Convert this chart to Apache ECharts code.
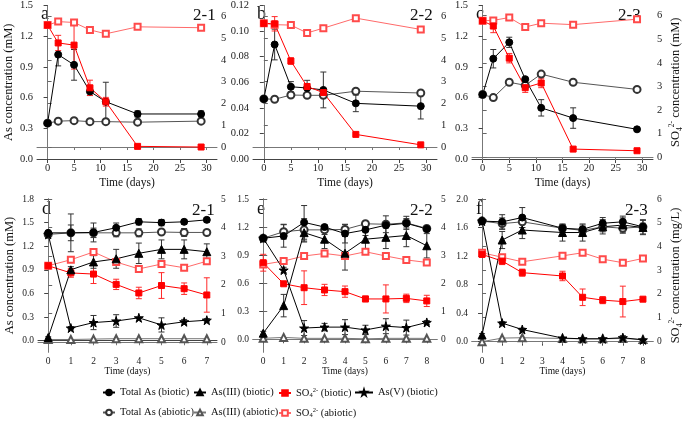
<!DOCTYPE html>
<html>
<head>
<meta charset="utf-8">
<script src="https://cdn.jsdelivr.net/npm/echarts@6/dist/echarts.min.js"></script>
<style>
  html, body { margin: 0; padding: 0; background: #fff; }
  #chart { width: 685px; height: 422px; }
</style>
</head>
<body>
<div id="chart"></div>
<script>
// ---- data ----
// top row (a, b, c): sampling days
const topDays = [0, 2, 5, 8, 11, 17, 29];
const topDayTicks = [0, 5, 10, 15, 20, 25, 30];
const topRightTicks = [0, 1, 2, 3, 4, 5, 6];

// panel a (2-1)
const aTicks = [0, 0.3, 0.6, 0.9, 1.2, 1.5];
const aTotalBio = [0.35, 1.02, 0.92, 0.66, 0.56, 0.44, 0.44];
const aTotalBioErr = [0, 0.11, 0.15, 0.04, 0.19, 0.03, 0.03];
const aTotalAbio = [0.35, 0.37, 0.375, 0.365, 0.365, 0.36, 0.37];
const aSo4Bio = [5.6, 4.78, 4.68, 2.72, 2.08, 0.03, 0.0];
const aSo4BioErr = [0, 0.35, 1.1, 0.35, 0.2, 0, 0];
const aSo4Abio = [5.6, 5.76, 5.72, 5.38, 5.2, 5.52, 5.48];

// panel b (2-2)
const bTicks = [0, 0.02, 0.04, 0.06, 0.08, 0.10, 0.12];
const bTotalBio = [0.047, 0.0895, 0.0565, 0.0555, 0.054, 0.0435, 0.0413];
const bTotalBioErr = [0, 0.012, 0.004, 0.006, 0.014, 0.0065, 0.01];
const bTotalAbio = [0.047, 0.0467, 0.05, 0.0498, 0.0498, 0.053, 0.0516];
const bSo4Bio = [5.68, 5.66, 3.95, 2.78, 2.5, 0.58, 0.1];
const bSo4BioErr = [0, 0.33, 0.15, 0.12, 0.12, 0, 0];
const bSo4Abio = [5.68, 5.62, 5.6, 5.24, 5.46, 5.92, 5.4];

// panel c (2-3)
const cTicks = [0, 0.3, 0.6, 0.9, 1.2, 1.5];
const cTotalBio = [0.63, 0.98, 1.14, 0.78, 0.5, 0.4, 0.29];
const cTotalBioErr = [0, 0.09, 0.05, 0, 0.08, 0.1, 0.02];
const cTotalAbio = [0.63, 0.6, 0.75, 0.72, 0.83, 0.75, 0.68];
const cSo4Bio = [5.78, 5.56, 4.2, 2.95, 3.15, 0.35, 0.28];
const cSo4BioErr = [0, 0.28, 0.2, 0.2, 0.2, 0, 0];
const cSo4Abio = [5.78, 5.8, 5.92, 5.52, 5.68, 5.62, 5.85];

// panel d (2-1)
const dDays = [0, 1, 2, 3, 4, 5, 6, 7];
const dTicks = [0, 0.3, 0.6, 0.9, 1.2, 1.5, 1.8];
const dRightTicks = [0, 1, 2, 3, 4, 5];
const dTotalBio = [1.37, 1.37, 1.375, 1.435, 1.51, 1.5, 1.51, 1.535];
const dTotalBioErr = [0.02, 0.1, 0.12, 0.06, 0.04, 0.04, 0.03, 0.03];
const dTotalAbio = [1.35, 1.37, 1.37, 1.37, 1.37, 1.38, 1.375, 1.375];
const dTotalAbioErr = [0, 0.24, 0.06, 0.05, 0.05, 0.03, 0.05, 0.03];
const dAs3Bio = [0.04, 0.9, 1.0, 1.04, 1.11, 1.16, 1.16, 1.13];
const dAs3BioErr = [0.01, 0.04, 0.08, 0.12, 0.13, 0.12, 0.12, 0.1];
const dAs3Abio = [0.015, 0.015, 0.02, 0.025, 0.025, 0.025, 0.025, 0.025];
const dAs5Bio = [1.35, 0.16, 0.23, 0.25, 0.29, 0.2, 0.24, 0.26];
const dAs5BioErr = [0, 0.02, 0.09, 0.08, 0, 0.09, 0.03, 0.02];
const dSo4Bio = [2.67, 2.42, 2.38, 2.02, 1.72, 1.98, 1.87, 1.65];
const dSo4BioErr = [0.05, 0.15, 0.33, 0.18, 0.2, 0.45, 0.2, 0.6];
const dSo4Abio = [2.67, 2.88, 3.15, 2.8, 2.56, 2.73, 2.6, 2.83];

// panel e (2-2)
const eDays = [0, 1, 2, 3, 4, 5, 6, 7, 8];
const eTicks = [0, 0.3, 0.6, 0.9, 1.2, 1.5];
const eRightTicks = [0, 1, 2, 3, 4, 5];
const eTotalBio = [1.08, 1.105, 1.25, 1.2, 1.13, 1.17, 1.22, 1.24, 1.18];
const eTotalBioErr = [0.03, 0.12, 0.18, 0.02, 0.1, 0.06, 0.03, 0.05, 0.03];
const eTotalAbio = [1.08, 1.15, 1.17, 1.17, 1.175, 1.235, 1.23, 1.245, 1.185];
const eTotalAbioErr = [0.03, 0.08, 0.12, 0.05, 0.05, 0.02, 0.09, 0.07, 0.02];
const eAs3Bio = [0.065, 0.36, 1.14, 1.07, 0.92, 1.07, 1.09, 1.11, 1.0];
const eAs3BioErr = [0.02, 0.12, 0.1, 0.1, 0.18, 0.12, 0.12, 0.12, 0.13];
const eAs3Abio = [0.01, 0.02, 0.01, 0.01, 0.01, 0.005, 0.01, 0.01, 0.01];
const eAs5Bio = [1.08, 0.74, 0.12, 0.13, 0.13, 0.1, 0.14, 0.125, 0.18];
const eAs5BioErr = [0, 0.03, 0.08, 0.04, 0.08, 0.05, 0.08, 0.08, 0.02];
const eSo4Bio = [2.73, 1.98, 1.84, 1.76, 1.7, 1.44, 1.44, 1.46, 1.37];
const eSo4BioErr = [0.3, 0.05, 0.6, 0.2, 0.2, 0.1, 0.5, 0.15, 0.2];
const eSo4Abio = [2.67, 2.79, 2.97, 3.06, 2.97, 3.12, 2.97, 2.83, 2.74];

// panel f (2-3)
const fDays = [0, 1, 2, 4, 5, 6, 7, 8];
const fAxisDays = [0, 1, 2, 3, 4, 5, 6, 7, 8];
const fTicks = [0, 0.4, 0.8, 1.2, 1.6, 2.0];
const fRightTicks = [0, 1, 2, 3, 4, 5, 6];
const fTotalBio = [1.69, 1.68, 1.74, 1.59, 1.575, 1.66, 1.68, 1.61];
const fTotalBioErr = [0.02, 0.1, 0.14, 0.05, 0.06, 0.08, 0.08, 0.1];
const fTotalAbio = [1.69, 1.655, 1.68, 1.59, 1.56, 1.61, 1.59, 1.61];
const fTotalAbioErr = [0, 0.08, 0.08, 0.05, 0.05, 0.07, 0.07, 0.05];
const fAs3Bio = [0.093, 1.425, 1.565, 1.53, 1.53, 1.61, 1.635, 1.6];
const fAs3BioErr = [0.02, 0.12, 0.12, 0.12, 0.12, 0.1, 0.1, 0.1];
const fAs3Abio = [0.0, 0.05, 0.055, 0.045, 0.04, 0.04, 0.045, 0.03];
const fAs5Bio = [1.69, 0.26, 0.17, 0.05, 0.04, 0.04, 0.055, 0.025];
const fAs5BioErr = [0, 0.02, 0.02, 0.01, 0.01, 0.01, 0.03, 0.01];
const fSo4Bio = [3.66, 3.38, 2.89, 2.75, 1.85, 1.73, 1.67, 1.77];
const fSo4BioErr = [0.1, 0.15, 0.15, 0.2, 0.35, 0.15, 0.65, 0.03];
const fSo4Abio = [3.73, 3.54, 3.35, 3.6, 3.73, 3.46, 3.31, 3.49];

// ---- styling ----
const FONT = '"Liberation Serif", "Times New Roman", serif';
const STAR = 'path://M50,0 L61,35 L98,35 L68,57 L79,91 L50,70 L21,91 L32,57 L2,35 L39,35 Z';
const styles = {
  'Total As (biotic)':   { symbol: 'circle', size: 7, color: '#000', line: '#000' },
  'Total As (abiotic)':  { symbol: 'emptyCircle', size: 7, color: '#333', line: '#555' },
  'As(III) (biotic)':    { symbol: 'triangle', size: 8, color: '#000', line: '#000' },
  'As(III) (abiotic)':   { symbol: 'emptyTriangle', size: 7, color: '#555', line: '#777' },
  'As(V) (biotic)':      { symbol: STAR, size: 9, color: '#000', line: '#000' },
  'SO4 (biotic)':        { symbol: 'rect', size: 6, color: '#ff0000', line: '#ff0000' },
  'SO4 (abiotic)':       { symbol: 'emptyRect', size: 6, color: '#ff4a4a', line: '#ff6a6a' }
};
const errColor = { As: '#333', SO4b: '#ff2a2a', SO4a: '#ff8a8a' };

const fmt = d => v => v.toFixed(d);
const txt = (size) => ({ fontFamily: FONT, fontSize: size, fontWeight: 'normal', color: '#111' });

const panels = [
  { grid: { left: 37, top: 4, width: 180, height: 155 }, xMin: -2, xMax: 32, xTicks: topDayTicks, big: true,
    yl: { min: 0, max: 1.5, ticks: aTicks, dec: 1 }, yr: { min: -0.55, max: 6.5, ticks: topRightTicks },
    leftName: true, rightName: null, label: 'a', tag: '2-1', tagOff: 24, days: topDays,
    lines: [
      ['Total As (abiotic)', 'l', aTotalAbio, null, 'As'],
      ['Total As (biotic)', 'l', aTotalBio, aTotalBioErr, 'As'],
      ['SO4 (abiotic)', 'r', aSo4Abio, null, 'SO4a'],
      ['SO4 (biotic)', 'r', aSo4Bio, aSo4BioErr, 'SO4b']
    ] },
  { grid: { left: 253, top: 4, width: 184, height: 155 }, xMin: -2, xMax: 32, xTicks: topDayTicks, big: true,
    yl: { min: 0, max: 0.12, ticks: bTicks, dec: 2 }, yr: { min: -0.55, max: 6.5, ticks: topRightTicks },
    leftName: false, rightName: null, label: 'b', tag: '2-2', tagOff: 27, days: topDays,
    lines: [
      ['Total As (abiotic)', 'l', bTotalAbio, null, 'As'],
      ['Total As (biotic)', 'l', bTotalBio, bTotalBioErr, 'As'],
      ['SO4 (abiotic)', 'r', bSo4Abio, null, 'SO4a'],
      ['SO4 (biotic)', 'r', bSo4Bio, bSo4BioErr, 'SO4b']
    ] },
  { grid: { left: 472, top: 4, width: 183, height: 155 }, xMin: -2, xMax: 32, xTicks: topDayTicks, big: true,
    yl: { min: 0, max: 1.5, ticks: cTicks, dec: 1 }, yr: { min: -0.07, max: 6.43, ticks: topRightTicks },
    leftName: false, rightName: ' concentration (mM)', label: 'c', tag: '2-3', tagOff: 37, days: topDays,
    lines: [
      ['Total As (abiotic)', 'l', cTotalAbio, null, 'As'],
      ['Total As (biotic)', 'l', cTotalBio, cTotalBioErr, 'As'],
      ['SO4 (abiotic)', 'r', cSo4Abio, null, 'SO4a'],
      ['SO4 (biotic)', 'r', cSo4Bio, cSo4BioErr, 'SO4b']
    ] },
  { grid: { left: 38, top: 199, width: 179, height: 153 }, xMin: -0.45, xMax: 7.45, xTicks: dDays, big: false,
    yl: { min: -0.144, max: 1.8, ticks: dTicks, dec: 1 }, yr: { min: -0.34, max: 5, ticks: dRightTicks },
    leftName: true, rightName: null, label: 'd', tag: '2-1', tagOff: 25, days: dDays,
    lines: [
      ['As(III) (abiotic)', 'l', dAs3Abio, null, 'As'],
      ['SO4 (abiotic)', 'r', dSo4Abio, null, 'SO4a'],
      ['SO4 (biotic)', 'r', dSo4Bio, dSo4BioErr, 'SO4b'],
      ['Total As (abiotic)', 'l', dTotalAbio, dTotalAbioErr, 'As'],
      ['Total As (biotic)', 'l', dTotalBio, dTotalBioErr, 'As'],
      ['As(III) (biotic)', 'l', dAs3Bio, dAs3BioErr, 'As'],
      ['As(V) (biotic)', 'l', dAs5Bio, dAs5BioErr, 'As']
    ] },
  { grid: { left: 253, top: 199, width: 184, height: 153 }, xMin: -0.5, xMax: 8.5, xTicks: eDays, big: false,
    yl: { min: -0.136, max: 1.5, ticks: eTicks, dec: 1 }, yr: { min: -0.45, max: 5, ticks: eRightTicks },
    leftName: false, rightName: null, label: 'e', tag: '2-2', tagOff: 27, days: eDays,
    lines: [
      ['As(III) (abiotic)', 'l', eAs3Abio, null, 'As'],
      ['SO4 (abiotic)', 'r', eSo4Abio, null, 'SO4a'],
      ['SO4 (biotic)', 'r', eSo4Bio, eSo4BioErr, 'SO4b'],
      ['Total As (abiotic)', 'l', eTotalAbio, eTotalAbioErr, 'As'],
      ['Total As (biotic)', 'l', eTotalBio, eTotalBioErr, 'As'],
      ['As(III) (biotic)', 'l', eAs3Bio, eAs3BioErr, 'As'],
      ['As(V) (biotic)', 'l', eAs5Bio, eAs5BioErr, 'As']
    ] },
  { grid: { left: 472, top: 199, width: 181, height: 153 }, xMin: -0.5, xMax: 8.5, xTicks: fAxisDays, big: false,
    yl: { min: -0.145, max: 2.0, ticks: fTicks, dec: 1 }, yr: { min: -0.46, max: 6, ticks: fRightTicks },
    leftName: false, rightName: ' concentration (mg/L)', label: 'f', tag: '2-3', tagOff: 28, days: fDays,
    lines: [
      ['As(III) (abiotic)', 'l', fAs3Abio, null, 'As'],
      ['SO4 (abiotic)', 'r', fSo4Abio, null, 'SO4a'],
      ['SO4 (biotic)', 'r', fSo4Bio, fSo4BioErr, 'SO4b'],
      ['Total As (abiotic)', 'l', fTotalAbio, fTotalAbioErr, 'As'],
      ['Total As (biotic)', 'l', fTotalBio, fTotalBioErr, 'As'],
      ['As(III) (biotic)', 'l', fAs3Bio, fAs3BioErr, 'As'],
      ['As(V) (biotic)', 'l', fAs5Bio, fAs5BioErr, 'As']
    ] }
];

const richSO4 = {
  t: Object.assign(txt(12.5), { lineHeight: 16 }),
  sub: Object.assign(txt(7.5), { verticalAlign: 'bottom', lineHeight: 16 }),
  sup: Object.assign(txt(7.5), { verticalAlign: 'top', lineHeight: 16 })
};

function errSeries(xi, yi, days, vals, errs, color) {
  return {
    type: 'custom', xAxisIndex: xi, yAxisIndex: yi, z: 1, silent: true,
    data: days.map((d, k) => [d, vals[k], errs[k]]).filter(p => p[2] > 0),
    renderItem(params, api) {
      const x = api.value(0), y = api.value(1), e = api.value(2);
      const hi = api.coord([x, y + e]), lo = api.coord([x, y - e]);
      const w = 3;
      const st = { stroke: color, lineWidth: 1 };
      return { type: 'group', children: [
        { type: 'line', shape: { x1: hi[0], y1: hi[1], x2: lo[0], y2: lo[1] }, style: st },
        { type: 'line', shape: { x1: hi[0] - w, y1: hi[1], x2: hi[0] + w, y2: hi[1] }, style: st },
        { type: 'line', shape: { x1: lo[0] - w, y1: lo[1], x2: lo[0] + w, y2: lo[1] }, style: st }
      ] };
    }
  };
}

const grid = [], xAxis = [], yAxis = [], series = [], graphic = [];
const axisLine = { lineStyle: { color: '#444', width: 1 } };
const axisLineLight = { lineStyle: { color: '#777', width: 1 } };

panels.forEach((p, i) => {
  grid.push(Object.assign({ containLabel: false }, p.grid));
  const labelSize = p.big ? 10.5 : 9.5;
  const labelStyle = Object.assign(txt(labelSize), { color: '#222', margin: 4 });
  xAxis.push({
    type: 'value', gridIndex: i, position: 'bottom', min: p.xMin, max: p.xMax,
    name: 'Time (days)', nameLocation: 'middle', nameGap: p.big ? 18 : 13,
    nameTextStyle: txt(p.big ? 11.5 : 9.5),
    axisLine: axisLine, splitLine: { show: false },
    axisTick: { length: 4, lineStyle: { color: '#444' }, customValues: p.xTicks },
    axisLabel: Object.assign({ customValues: p.xTicks }, labelStyle)
  });
  xAxis.push({
    type: 'value', gridIndex: i, position: 'top', min: p.xMin, max: p.xMax,
    axisLine: axisLineLight, splitLine: { show: false },
    axisTick: { inside: true, length: 3, lineStyle: { color: '#777' }, customValues: p.xTicks },
    axisLabel: { show: false }
  });
  yAxis.push({
    type: 'value', gridIndex: i, position: 'left', min: p.yl.min, max: p.yl.max,
    name: p.leftName ? 'As concentration (mM)' : '', nameLocation: 'middle', nameGap: 22, nameRotate: 90,
    nameTextStyle: txt(12.5),
    axisLine: Object.assign({ show: true }, axisLine), splitLine: { show: false },
    axisTick: { show: true, length: 4, lineStyle: { color: '#444' }, customValues: p.yl.ticks },
    axisLabel: Object.assign({ customValues: p.yl.ticks, formatter: fmt(p.yl.dec) }, labelStyle)
  });
  yAxis.push({
    type: 'value', gridIndex: i, position: 'right', min: p.yr.min, max: p.yr.max,
    name: p.rightName ? '{t|SO}{sub|4}{sup|2-}{t|' + p.rightName + '}' : '',
    nameLocation: 'middle', nameGap: 15, nameRotate: 90,
    nameTextStyle: Object.assign(txt(12.5), { rich: richSO4 }),
    axisLine: Object.assign({ show: true }, axisLineLight), splitLine: { show: false },
    axisTick: { show: true, length: 4, lineStyle: { color: '#666' }, customValues: p.yr.ticks },
    axisLabel: Object.assign({ customValues: p.yr.ticks, formatter: fmt(0) }, labelStyle)
  });

  p.lines.forEach(([name, side, vals, errs, ec]) => {
    const s = styles[name];
    const yi = side === 'l' ? 2 * i : 2 * i + 1;
    if (errs) series.push(errSeries(2 * i, yi, p.days, vals, errs, errColor[ec]));
    series.push({
      type: 'line', name: name, xAxisIndex: 2 * i, yAxisIndex: yi, z: 3,
      data: p.days.map((d, k) => [d, vals[k]]),
      symbol: s.symbol, symbolSize: s.size, showSymbol: true,
      lineStyle: { color: s.line, width: 1 },
      itemStyle: { color: s.color, borderColor: s.color, borderWidth: 1 },
      emphasis: { disabled: true }, animation: false
    });
  });

  const g = p.grid;
  graphic.push({ type: 'text', left: g.left + 4, top: g.top + 1,
    style: { text: p.label, fontFamily: FONT, fontSize: 18, fill: '#111' } });
  graphic.push({ type: 'text', left: g.left + g.width - p.tagOff, top: g.top + 3,
    style: { text: p.tag, fontFamily: FONT, fontSize: 17, fill: '#111' } });
});

const legendRich = {
  t: txt(10.5),
  sub: Object.assign(txt(6.5), { verticalAlign: 'bottom', padding: [5, 0, 0, 0] }),
  sup: Object.assign(txt(6.5), { verticalAlign: 'top', padding: [0, 0, 5, 0] })
};
const legendFmt = n => n.indexOf('SO4') === 0
  ? '{t|SO}{sub|4}{sup|2-}{t|' + n.slice(3) + '}' : n;
function legendAt(name, left, top, w) {
  return {
    data: [name], left: left, top: top, itemWidth: w, itemHeight: 7, itemGap: 0,
    selectedMode: false, formatter: legendFmt,
    textStyle: Object.assign(txt(10.5), { rich: legendRich })
  };
}
const legend = [
  legendAt('Total As (biotic)', 97, 382, 12),
  legendAt('As(III) (biotic)', 188, 382, 12),
  legendAt('SO4 (biotic)', 273, 382, 12),
  legendAt('As(V) (biotic)', 349, 382, 18),
  legendAt('Total As (abiotic)', 97, 402, 12),
  legendAt('As(III) (abiotic)', 188, 402, 12),
  legendAt('SO4 (abiotic)', 273, 402, 12)
];

const chart = echarts.init(document.getElementById('chart'), null, { renderer: 'canvas' });
chart.setOption({
  animation: false,
  backgroundColor: '#fff',
  textStyle: { fontFamily: FONT },
  grid: grid, xAxis: xAxis, yAxis: yAxis, series: series,
  legend: legend, graphic: graphic
});
</script>
</body>
</html>
